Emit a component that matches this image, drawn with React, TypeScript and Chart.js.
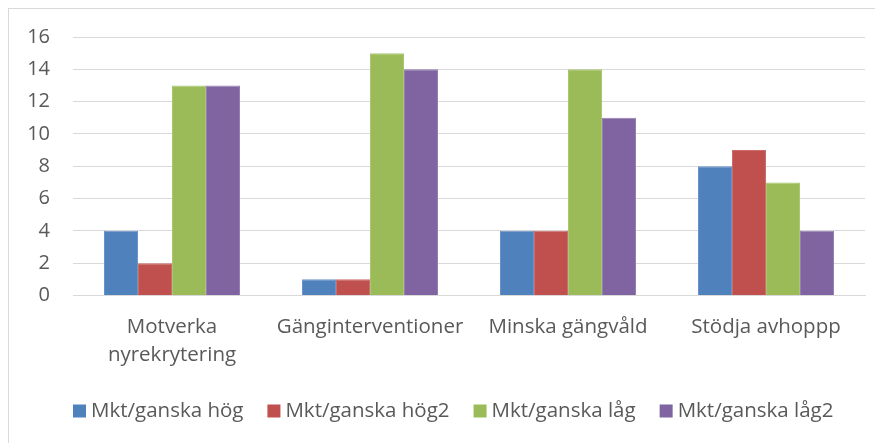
import React, { useEffect, useRef } from "react";
import { Chart, registerables } from "chart.js";

Chart.register(...registerables);

const categories: (string | string[])[] = [
  ["Motverka", "nyrekrytering"],
  "Gänginterventioner",
  "Minska gängvåld",
  "Stödja avhoppp",
];
const seriesNames = ["Mkt/ganska hög", "Mkt/ganska hög2", "Mkt/ganska låg", "Mkt/ganska låg2"];
const hog = [4, 1, 4, 8];
const hog2 = [2, 1, 4, 9];
const lag = [13, 15, 14, 7];
const lag2 = [13, 14, 11, 4];
const colors = ["#4F81BD", "#C0504D", "#9BBB59", "#8064A2"];
const edgeColors = ["#6A93C8", "#CB6D6A", "#AAC672", "#9480B2"];

const FONT = "'Open Sans', sans-serif";
const TEXT = "#595959";

// Excel-style legend: small square, short gap, label; items separated evenly.
const excelLegend = {
  id: "excelLegend",
  afterDraw(chart: any) {
    const ctx = chart.ctx as CanvasRenderingContext2D;
    const box = 13;
    const gap = 5;
    const spacing = 24;
    ctx.save();
    ctx.font = `20.5px ${FONT}`;
    ctx.textBaseline = "middle";
    ctx.textAlign = "left";
    const yc = chart.height - 32;
    let x = chart.chartArea.left;
    chart.data.datasets.forEach((ds: any) => {
      const label = ds.label as string;
      const w = ctx.measureText(label).width;
      ctx.fillStyle = ds.backgroundColor;
      ctx.fillRect(x, yc - box / 2, box, box);
      ctx.fillStyle = TEXT;
      ctx.fillText(label, x + box + gap, yc);
      x += box + gap + w + spacing;
    });
    ctx.restore();
  },
};

export default function App() {
  const ref = useRef<HTMLCanvasElement | null>(null);
  useEffect(() => {
    document.body.style.overflow = "hidden";
    const values = [hog, hog2, lag, lag2];
    const chart = new Chart(ref.current as HTMLCanvasElement, {
      type: "bar",
      data: {
        labels: categories,
        datasets: seriesNames.map((name, i) => ({
          label: name,
          data: values[i],
          backgroundColor: colors[i],
          borderColor: edgeColors[i],
          borderWidth: 1,
          barPercentage: 1,
          categoryPercentage: 0.687,
        })),
      },
      options: {
        animation: false,
        responsive: false,
        maintainAspectRatio: false,
        layout: { padding: { left: 19, right: 18, top: 28, bottom: 55.5 } },
        plugins: {
          tooltip: { enabled: false },
          legend: { display: false },
        },
        scales: {
          x: {
            grid: { display: false, drawTicks: false },
            border: { display: true, color: "#D9D9D9", width: 1 },
            ticks: {
              color: TEXT,
              padding: 18,
              maxRotation: 0,
              autoSkip: false,
              font: { family: FONT, size: 20.5, lineHeight: 1.366 },
            },
          },
          y: {
            min: 0,
            max: 16,
            grid: {
              color: "#D9D9D9",
              lineWidth: 1,
              drawTicks: true,
              tickLength: 7,
              tickColor: "rgba(0,0,0,0)",
            },
            border: { display: false },
            ticks: {
              stepSize: 2,
              color: TEXT,
              padding: 16,
              font: { family: FONT, size: 20 },
            },
            afterFit: (s: any) => {
              s.width = 45;
            },
          },
        },
      },
      plugins: [excelLegend],
    });
    return () => chart.destroy();
  }, []);
  return (
    <div
      style={{
        width: 875,
        height: 435,
        boxSizing: "border-box",
        borderTop: "1px solid #D9D9D9",
        borderLeft: "1px solid #D9D9D9",
        background: "#fff",
      }}
    >
      <canvas ref={ref} width={874} height={434} style={{ display: "block" }} />
    </div>
  );
}
